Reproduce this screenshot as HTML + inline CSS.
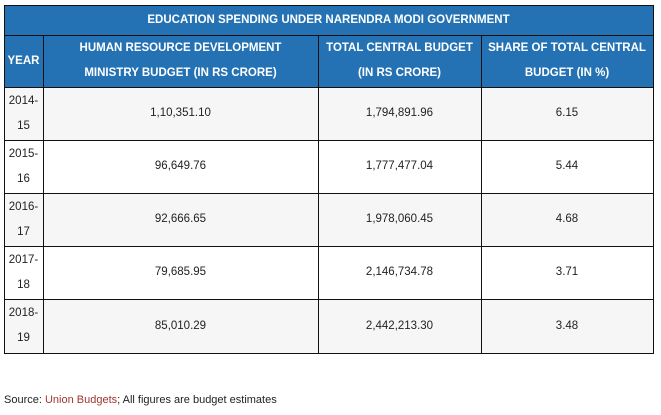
<!DOCTYPE html>
<html><head><meta charset="utf-8"><style>
body{margin:0;width:661px;height:415px;background:#fff;position:relative;font-family:"Liberation Sans",Arial,sans-serif;overflow:hidden}
.c{position:absolute;box-sizing:border-box;display:flex;align-items:center;justify-content:center;text-align:center}
.h{background:#2472b3;color:#fff;font-weight:bold;font-size:11.5px;line-height:25px}
.d{font-size:11.5px;color:#222;line-height:25px}
.ln{position:absolute;background:#111}
</style></head><body>
<div id="t"></div>
<div style="position:absolute;left:4px;top:394px;font-size:11px;color:#222">Source: <span style="color:#a3352f">Union Budgets</span>; All figures are budget estimates</div>
<script>
const years=["2014-<br>15","2015-<br>16","2016-<br>17","2017-<br>18","2018-<br>19"];
const hrd=["1,10,351.10","96,649.76","92,666.65","79,685.95","85,010.29"];
const total=["1,794,891.96","1,777,477.04","1,978,060.45","2,146,734.78","2,442,213.30"];
const share=["6.15","5.44","4.68","3.71","3.48"];
const cols=[4,43,318,481,653];
const rows=[87,140,193,246,299,353];
const t=document.getElementById('t');
function cell(x,y,w,h,cls,html,name){const e=document.createElement('div');e.className='c '+cls;e.style.left=x+'px';e.style.top=y+'px';e.style.width=w+'px';e.style.height=h+'px';e.innerHTML=html;


t.appendChild(e);return e;}
cell(4,5,649,30,'h','EDUCATION SPENDING UNDER NARENDRA MODI GOVERNMENT','table-title');
const hd=["YEAR","HUMAN RESOURCE DEVELOPMENT<br>MINISTRY BUDGET (IN RS CRORE)","TOTAL CENTRAL BUDGET<br>(IN RS CRORE)","SHARE OF TOTAL CENTRAL<br>BUDGET (IN %)"];
for(let i=0;i<4;i++)cell(cols[i],35,cols[i+1]-cols[i],52,'h',hd[i],'column-header');
for(let r=0;r<5;r++){const y=rows[r],h=rows[r+1]-rows[r];const vals=[years[r],hrd[r],total[r],share[r]];
for(let i=0;i<4;i++){const e=cell(cols[i],y,cols[i+1]-cols[i],h,'d',vals[i],'data-cell');e.style.background=r%2==0?'#f6f6f6':'#fff';}}
function ln(x,y,w,h){const e=document.createElement('div');e.className='ln';e.style.left=x+'px';e.style.top=y+'px';e.style.width=w+'px';e.style.height=h+'px';


t.appendChild(e);}
for(const y of rows)ln(4,y,650,1);
ln(4,5,650,1);ln(4,35,650,1);
ln(4,5,1,349);ln(653,5,1,349);
for(let i=1;i<4;i++)ln(cols[i],35,1,318);
</script>
</body></html>
